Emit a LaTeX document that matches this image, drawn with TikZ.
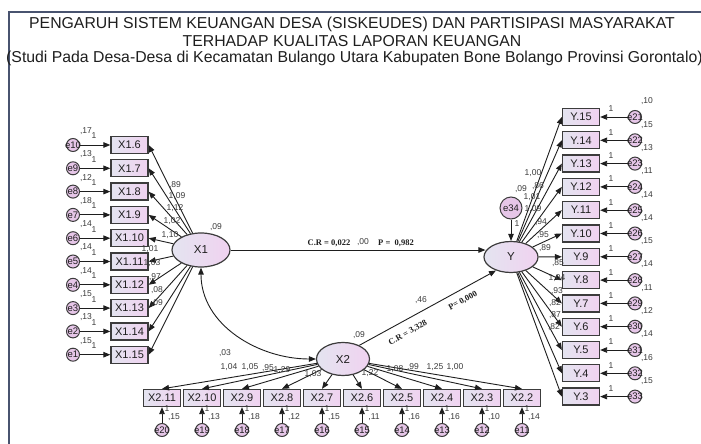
\documentclass[tikz,border=0pt]{standalone}
\usepackage{fontspec}
\setmainfont{Liberation Sans}
\newfontfamily\serifbold{Liberation Serif}
\usetikzlibrary{arrows.meta,shapes.geometric}

\definecolor{bingkai}{HTML}{48536F}
\definecolor{garis}{HTML}{1E1E1E}
\definecolor{tepi}{HTML}{3C3C3C}
\definecolor{kiri}{HTML}{E4E4F0}
\definecolor{kanan}{HTML}{F0D2F0}
\definecolor{galat}{HTML}{E6C6E8}
\definecolor{angka}{HTML}{3A3A3A}

\tikzset{
  indikator/.style={rectangle, draw=tepi, line width=1.3pt, minimum width=37pt,
    minimum height=17pt, inner sep=0pt, left color=kiri, right color=kanan,
    font=\fontsize{11}{11}\selectfont, text=garis},
  laten/.style={ellipse, draw=tepi, line width=1.2pt, inner sep=0pt,
    left color=kiri, right color=kanan, font=\fontsize{11.5}{11.5}\selectfont, text=garis},
  galatc/.style={circle, draw=tepi, line width=1pt, fill=galat, minimum size=13pt,
    inner sep=0pt, label={[font=\fontsize{9.5}{9.5}\selectfont, text=garis]center:#1}},
  panah/.style={draw=garis, line width=0.9pt, -{Triangle[length=7pt,width=5.5pt]}},
  dua/.style={draw=garis, line width=0.9pt,
    {Triangle[length=7pt,width=5.5pt]}-{Triangle[length=7pt,width=5.5pt]}},
  nilai/.style={font=\fontsize{8.5}{8.5}\selectfont, text=angka, inner sep=0pt},
  uji/.style={font=\serifbold\bfseries\fontsize{8.5}{8.5}\selectfont, text=garis, inner sep=0pt},
  judul/.style={font=\fontsize{15.8}{15.8}\selectfont, text=garis, inner sep=0pt}
}

\begin{document}
\begin{tikzpicture}[x=1pt,y=-1pt]

    % ukuran gambar
    \useasboundingbox (0,0) rectangle (701,444);
    \begin{scope}
    \clip (0,0) rectangle (701,444);

    % bingkai dan judul
    \draw[bingkai, line width=1.5pt] (9,12) rectangle (720,470);
    \node[judul] (j1) at (352,24) {PENGARUH SISTEM KEUANGAN DESA (SISKEUDES) DAN PARTISIPASI MASYARAKAT};
    \node[judul] (j2) at (352,41) {TERHADAP KUALITAS LAPORAN KEUANGAN};
    \node[judul, anchor=west] (j3) at (6,58) {(Studi Pada Desa-Desa di Kecamatan Bulango Utara Kabupaten Bone Bolango Provinsi Gorontalo)};

    % variabel laten
    \node[laten, minimum width=58pt, minimum height=34pt] (X1) at (201,250) {X1};
    \node[laten, minimum width=54pt, minimum height=31pt] (Y) at (511,257) {Y};
    \node[laten, minimum width=53pt, minimum height=33pt] (X2) at (343,359) {X2};
    \node[galatc=e34, minimum size=22pt] (e34) at (511,208) {};

    % indikator X1
    \foreach \i/\e/\v [count=\k from 0] in {6/10/17, 7/9/13, 8/8/12, 9/7/18, 10/6/14,
        11/5/14, 12/4/14, 13/3/15, 14/2/13, 15/1/15} {
        \pgfmathsetmacro{\yy}{145+23.3*\k}
        \node[indikator] (a\i) at (129.5,\yy) {X1.\i};
        \node[galatc=e\e] (e\e) at (73,\yy) {};
        \draw[panah] (e\e) -- (a\i);
        \draw[panah] (X1) -- (a\i.east);
        \node[nilai] at (94,\yy-9) {1};
        \node[nilai] at (86,\yy-14) {,\v};
    }

    % indikator Y
    \foreach \i/\e/\v [count=\k from 0] in {15/21/10, 14/22/15, 13/23/13, 12/24/11, 11/25/14,
        10/26/14, 9/27/15, 8/28/14, 7/29/11, 6/30/12, 5/31/14, 4/32/16, 3/33/15} {
        \pgfmathsetmacro{\yy}{117+23.3*\k}
        \node[indikator] (c\i) at (581,\yy) {Y.\i};
        \node[galatc=e\e] (e\e) at (635,\yy) {};
        \draw[panah] (e\e) -- (c\i);
        \draw[panah] (Y) -- (c\i.west);
        \node[nilai] at (611,\yy-8) {1};
        \node[nilai] at (647,\yy-15.5) {,\v};
    }

    % indikator X2
    \foreach \i/\e/\v [count=\k from 0] in {11/20/15, 10/19/13, 9/18/18, 8/17/12, 7/16/15,
        6/15/11, 5/14/16, 4/13/16, 3/12/10, 2/11/14} {
        \pgfmathsetmacro{\xx}{162+40*\k}
        \node[indikator] (b\i) at (\xx,398) {X2.\i};
        \node[galatc=e\e] (e\e) at (\xx,430) {};
        \draw[panah] (e\e) -- (b\i);
        \draw[panah] (X2) -- (b\i.north);
        \node[nilai] at (\xx+5,409) {1};
        \node[nilai] at (\xx+12,417) {,\v};
    }

    % hubungan antar laten
    \draw[panah] (X1) -- ([xshift=2pt]X1 -| Y.west);
    \draw[panah] (X2.40) -- (Y.-138);
    \draw[panah] (e34) -- (Y);
    \draw[dua] (X1.south) to[out=-90, in=180] (X2.west);

    % koefisien
    \foreach \t/\px/\py in {{,89}/175/185, {1,09}/177/196, {1,12}/175/208, {1,02}/172/221,
        {1,10}/170/235, {1,01}/150/249, {1,03}/152/263, {,97}/155/277, {,08}/157/290, {,09}/157/303}
        \node[nilai] at (\px,\py) {\t};
    \foreach \t/\px/\py in {{1,00}/533/173, {,86}/538/186, {1,01}/532/197, {1,09}/533/209,
        {,94}/541/222, {,95}/543/235, {,89}/545/248, {,85}/558/263, {1,04}/557/278,
        {,93}/557/291, {,82}/555/303, {,87}/555/315, {,82}/554/327}
        \node[nilai] at (\px,\py) {\t};
    \foreach \t/\px/\py in {{1,04}/229/367, {1,05}/250/367, {,95}/268/368, {1,29}/282/370,
        {1,03}/313/374, {1,22}/370/373, {1,08}/395/369, {,99}/413/367, {1,25}/435/367, {1,00}/455/367}
        \node[nilai] at (\px,\py) {\t};

    % varians dan uji
    \node[nilai] at (216,227) {,09};
    \node[nilai] at (359,335) {,09};
    \node[nilai] at (521,189) {,09};
    \node[nilai] at (517,224) {1};
    \node[nilai] at (225,353) {,03};
    \node[nilai] at (421,300) {,46};
    \node[uji] at (329,243) {C.R = 0,022};
    \node[nilai] at (363,242) {,00};
    \node[uji] at (396,243) {P =\ \ 0,982};
    \node[uji, rotate=28.8] at (408,333) {C.R = 3,328};
    \node[uji, rotate=28.8] at (463,301) {P=\ 0,000};
    \end{scope}

\end{tikzpicture}
\end{document}
